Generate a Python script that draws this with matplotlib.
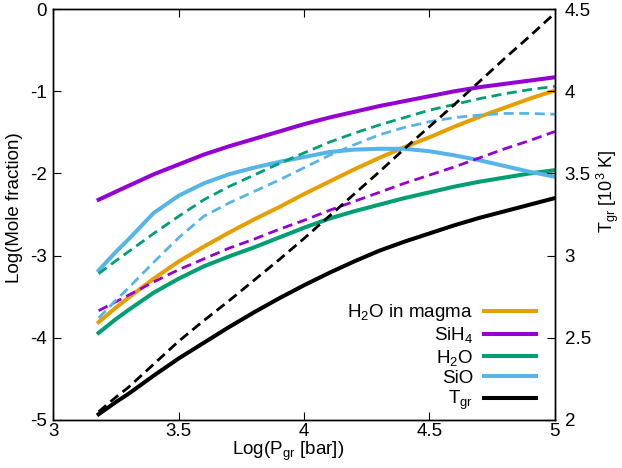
import numpy as np
import matplotlib.pyplot as plt

plt.rcParams['font.family'] = ['Liberation Sans', 'DejaVu Sans']
plt.rcParams['mathtext.fontset'] = 'custom'
plt.rcParams['mathtext.rm'] = 'Liberation Sans'
plt.rcParams['mathtext.it'] = 'Liberation Sans'

# log pressure grid
logp = [3.18, 3.25, 3.3, 3.4, 3.5, 3.6, 3.7, 3.8, 3.9, 4.0,
        4.1, 4.2, 4.3, 4.4, 4.5, 4.6, 4.7, 4.8, 4.9, 5.0]

# solid lines (log mole fraction)
h2o_magma = [-3.81, -3.63, -3.51, -3.28, -3.07, -2.89, -2.72, -2.56, -2.41, -2.25,
             -2.10, -1.95, -1.81, -1.68, -1.56, -1.43, -1.31, -1.20, -1.09, -0.99]
sih4 = [-2.32, -2.22, -2.15, -2.01, -1.89, -1.77, -1.67, -1.58, -1.49, -1.40,
        -1.32, -1.25, -1.18, -1.12, -1.06, -1.00, -0.95, -0.91, -0.87, -0.83]
h2o = [-3.94, -3.77, -3.66, -3.45, -3.28, -3.13, -3.01, -2.90, -2.78, -2.66,
       -2.55, -2.46, -2.38, -2.30, -2.23, -2.16, -2.10, -2.05, -2.00, -1.96]
sio = [-3.18, -2.95, -2.80, -2.48, -2.27, -2.12, -2.01, -1.93, -1.86, -1.80,
       -1.74, -1.71, -1.70, -1.70, -1.73, -1.78, -1.84, -1.91, -1.98, -2.04]

# dashed lines
sih4_d = [-3.67, -3.56, -3.48, -3.32, -3.17, -3.04, -2.91, -2.80, -2.68, -2.57,
          -2.45, -2.34, -2.23, -2.12, -2.02, -1.92, -1.81, -1.70, -1.60, -1.49]
h2o_d = [-3.22, -3.06, -2.95, -2.73, -2.52, -2.32, -2.16, -2.02, -1.88, -1.75,
         -1.62, -1.51, -1.41, -1.32, -1.23, -1.16, -1.09, -1.03, -0.98, -0.94]
sio_d = [-3.76, -3.54, -3.39, -3.08, -2.78, -2.52, -2.36, -2.22, -2.08, -1.93,
         -1.78, -1.65, -1.53, -1.44, -1.37, -1.32, -1.29, -1.27, -1.27, -1.28]

# temperature [10^3 K], right axis
tgr = [2.035, 2.11, 2.16, 2.27, 2.375, 2.47, 2.565, 2.655, 2.74, 2.82,
       2.895, 2.965, 3.03, 3.085, 3.135, 3.185, 3.23, 3.27, 3.31, 3.35]
tgr_d = [2.05, 2.14, 2.20, 2.34, 2.48, 2.605, 2.725, 2.85, 2.975, 3.105,
         3.24, 3.375, 3.51, 3.65, 3.785, 3.92, 4.06, 4.20, 4.335, 4.475]

c_orange = '#e69f00'
c_purple = '#9400d3'
c_green = '#009e73'
c_blue = '#56b4e9'

fig = plt.figure(figsize=(6.22, 4.68), dpi=100)
ax = fig.add_axes([0.086, 0.1026, 0.806, 0.878])
ax2 = ax.twinx()

lw = 2.9
lwd = 2.0
dash = (0, (3.6, 2.0))

ax.plot(logp, h2o_magma, color=c_orange, lw=lw)
ax.plot(logp, sih4, color=c_purple, lw=lw)
ax.plot(logp, h2o, color=c_green, lw=lw)
ax.plot(logp, sio, color=c_blue, lw=lw)
ax.plot(logp, sih4_d, color=c_purple, lw=lwd, linestyle=dash)
ax.plot(logp, h2o_d, color=c_green, lw=lwd, linestyle=dash)
ax.plot(logp, sio_d, color=c_blue, lw=lwd, linestyle=dash)
ax2.plot(logp, tgr, color='black', lw=lw)
ax2.plot(logp, tgr_d, color='black', lw=lwd, linestyle=dash)

ax.set_xlim(3, 5)
ax.set_ylim(-5, 0)
ax2.set_ylim(2, 4.5)
ax.set_xticks([3, 3.5, 4, 4.5, 5])
ax.set_xticklabels(['3', '3.5', '4', '4.5', '5'])
ax.set_yticks([0, -1, -2, -3, -4, -5])
ax.set_yticklabels(['0', '-1', '-2', '-3', '-4', '-5'])
ax2.set_yticks([2, 2.5, 3, 3.5, 4, 4.5])
ax2.set_yticklabels(['2', '2.5', '3', '3.5', '4', '4.5'])

fs = 13.5
ax.tick_params(axis='x', direction='in', top=True, length=6, labelsize=fs, pad=2.5)
ax.tick_params(axis='y', direction='in', right=False, length=6, labelsize=fs, pad=5)
ax2.tick_params(axis='y', direction='in', length=6, labelsize=fs, pad=7)

ax.set_xlabel(r'Log(P$_{\mathrm{gr}}$ [bar])', fontsize=fs)
ax.set_ylabel('Log(Mole fraction)', fontsize=fs)
ax2.set_ylabel(r'T$_{\mathrm{gr}}$ [10$^3$ K]', fontsize=13)
ax.xaxis.set_label_coords(0.467, -0.048)
ax.yaxis.set_label_coords(-0.06, 0.518)
ax2.yaxis.set_label_coords(1.08, 0.557)

for a in (ax, ax2):
    for s in a.spines.values():
        s.set_linewidth(1.0)

handles = [plt.Line2D([], [], color=c, lw=lw) for c in
           (c_orange, c_purple, c_green, c_blue, 'black')]
labels = [r'H$_2$O in magma', r'SiH$_4$', r'H$_2$O', 'SiO', r'T$_{\mathrm{gr}}$']
ax2.legend(handles, labels, loc='lower right', frameon=False, markerfirst=False,
           fontsize=fs, handlelength=2.75, labelspacing=0.12, handletextpad=0.6,
           borderaxespad=0.0, bbox_to_anchor=(0.977, 0.0))

fig.savefig('out.png', dpi=100)
